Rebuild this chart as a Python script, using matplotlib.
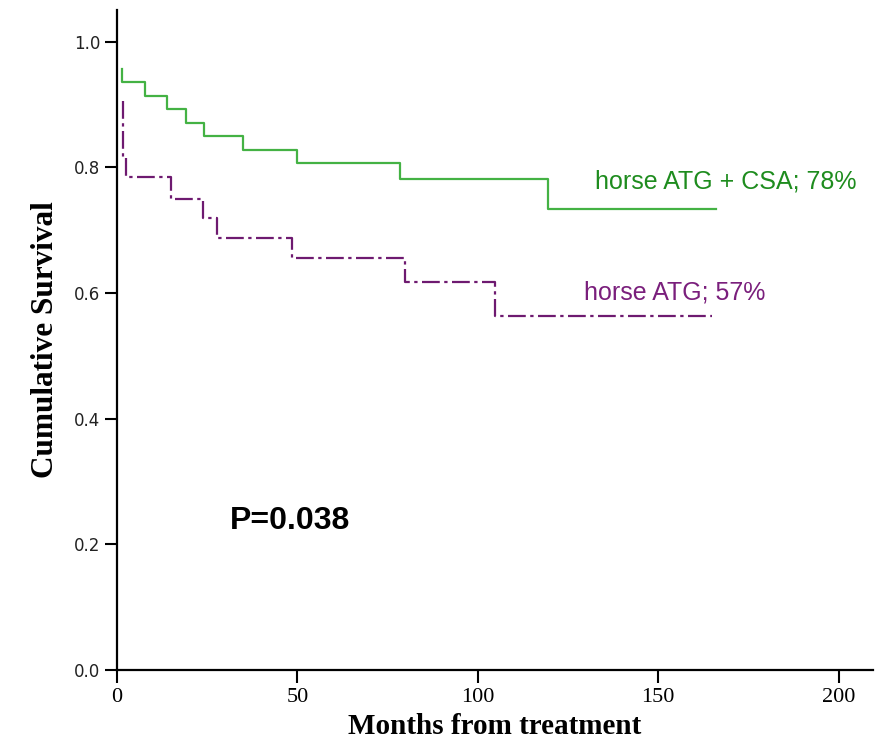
import matplotlib.pyplot as plt

# Kaplan-Meier steps (months, cumulative survival)
green_t = [1.4, 1.4, 7.8, 13.9, 19.0, 24.0, 34.9, 49.9, 78.4, 119.4, 166.0]
green_s = [0.957, 0.935, 0.913, 0.892, 0.870, 0.849, 0.828, 0.806, 0.782, 0.733, 0.733]

purple_t = [1.7, 1.7, 2.5, 15.0, 23.8, 27.7, 48.5, 79.8, 104.7, 165.0]
purple_s = [0.906, 0.816, 0.785, 0.750, 0.719, 0.688, 0.655, 0.618, 0.563, 0.563]

green_label = "horse ATG + CSA; 78%"
purple_label = "horse ATG; 57%"
p_text = "P=0.038"

fig = plt.figure(figsize=(8.81, 7.55), dpi=100)
ax = fig.add_axes([0.1328, 0.1126, 0.858, 0.874])

ax.plot(green_t, green_s, drawstyle='steps-post', color='#44b244', lw=1.6)
ax.plot(purple_t, purple_s, drawstyle='steps-post', color='#6e1a70', lw=1.6,
        dashes=[8, 2, 1.5, 2])

ax.text(132.4, 0.777, green_label, color='#1e8c1e', fontsize=18,
        family='Liberation Sans', ha='left', va='center')
ax.text(129.5, 0.6, purple_label, color='#7a1f7c', fontsize=18,
        family='Liberation Sans', ha='left', va='center')
ax.text(31.3, 0.237, p_text, color='black', fontsize=23, fontweight='bold',
        family='Liberation Sans', ha='left', va='center')

ax.set_xlim(0, 209.5)
ax.set_ylim(0, 1.05)
ax.set_xticks([0, 50, 100, 150, 200])
ax.set_yticks([0.0, 0.2, 0.4, 0.6, 0.8, 1.0])
ax.set_yticklabels(['0.0', '0.2', '0.4', '0.6', '0.8', '1.0'])

for s in ['top', 'right']:
    ax.spines[s].set_visible(False)
for s in ['left', 'bottom']:
    ax.spines[s].set_linewidth(1.6)

ax.tick_params(axis='both', direction='out', length=9, width=1.5, color='black')
ax.tick_params(axis='y', labelsize=12, pad=3)
ax.tick_params(axis='x', labelsize=16, pad=4)
for lab in ax.get_xticklabels():
    lab.set_family(['Liberation Sans Narrow', 'Liberation Serif'])
for lab in ax.get_yticklabels():
    lab.set_family('DejaVu Sans')
    lab.set_color('#222222')

ax.set_xlabel('Months from treatment', fontsize=21, fontweight='bold',
              family='Liberation Serif', labelpad=4)
ax.set_ylabel('Cumulative Survival', fontsize=22.5, fontweight='bold',
              family='Liberation Serif', labelpad=10)

fig.savefig('out.png', dpi=100)
